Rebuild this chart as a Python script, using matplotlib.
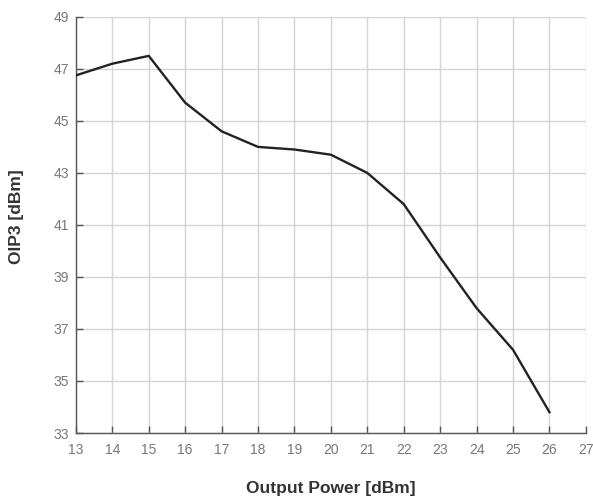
import matplotlib
matplotlib.use("Agg")
import matplotlib.pyplot as plt

# values
output_power = [13, 14, 15, 16, 17, 18, 19, 20, 21, 22, 23, 24, 25, 26]
oip3 = [46.75, 47.2, 47.5, 45.7, 44.6, 44.0, 43.9, 43.7, 43.0, 41.8, 39.75, 37.8, 36.2, 33.8]
x_ticks = list(range(13, 28))
y_ticks = list(range(33, 50, 2))

plt.rcParams["font.family"] = ["Liberation Sans", "DejaVu Sans"]

fig = plt.figure(figsize=(5.93, 4.96), dpi=100, facecolor="white")
ax = fig.add_axes([0.128, 0.127, 0.86, 0.839])

ax.plot(output_power, oip3, color="#222222", linewidth=1.7, zorder=3)

ax.set_xlim(13, 27)
ax.set_ylim(33, 49)
ax.set_xticks(x_ticks)
ax.set_yticks(y_ticks)
ax.grid(True, color="#d4d4d4", linewidth=1.0)
ax.set_axisbelow(True)

for side in ("top", "right"):
    ax.spines[side].set_visible(False)
for side in ("left", "bottom"):
    ax.spines[side].set_color("#555555")
    ax.spines[side].set_linewidth(1.0)

ax.tick_params(direction="in", length=5, width=1, color="#555555",
               labelsize=10, labelcolor="#777777")
ax.tick_params(axis="x", pad=7)
ax.tick_params(axis="y", pad=5)

ax.set_xlabel("Output Power [dBm]", fontsize=12.5, fontweight="bold",
              color="#333333")
ax.set_ylabel("OIP3 [dBm]", fontsize=12.5, fontweight="bold", color="#333333")
ax.xaxis.set_label_coords(0.5, -0.115)
ax.yaxis.set_label_coords(-0.102, 0.52)

fig.savefig("out.png", dpi=100)
